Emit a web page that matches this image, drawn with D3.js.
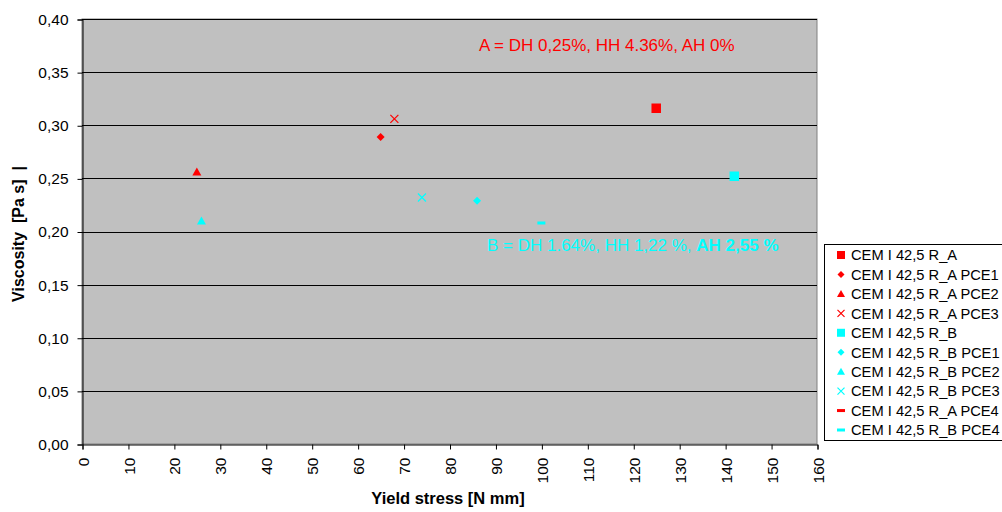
<!DOCTYPE html>
<html>
<head>
<meta charset="utf-8">
<script src="https://cdn.jsdelivr.net/npm/d3@7/dist/d3.min.js"></script>
<style>
  html, body { margin: 0; padding: 0; background: #fff; }
  svg { display: block; font-family: Arial, "Liberation Sans", sans-serif; }
</style>
</head>
<body>
<svg id="chart" width="1002" height="512"></svg>
<script>
// Series definitions
const seriesNames = [
  "CEM I 42,5 R_A", "CEM I 42,5 R_A PCE1", "CEM I 42,5 R_A PCE2", "CEM I 42,5 R_A PCE3",
  "CEM I 42,5 R_B", "CEM I 42,5 R_B PCE1", "CEM I 42,5 R_B PCE2", "CEM I 42,5 R_B PCE3",
  "CEM I 42,5 R_A PCE4", "CEM I 42,5 R_B PCE4"
];
const seriesShapes = ["square", "diamond", "triangle", "cross", "square", "diamond", "triangle", "cross", "dash", "dash"];
const seriesColors = ["#FF0000", "#FF0000", "#FF0000", "#FF0000", "#00FFFF", "#00FFFF", "#00FFFF", "#00FFFF", "#FF0000", "#00FFFF"];

// Yield stress [N mm] per series
const yieldStress = [[125], [65], [25], [68], [142], [86], [26], [74], [], [100]];
// Viscosity [Pa s] per series
const viscosity = [[0.316], [0.289], [0.256], [0.306], [0.252], [0.229], [0.210], [0.232], [], [0.208]];

// Axis ticks
const xTicks = d3.range(0, 161, 10);
const yTicks = d3.range(0, 0.4001, 0.05);

const svg = d3.select("#chart");
const plot = { left: 82, top: 19, right: 817, bottom: 444 };

const x = d3.scaleLinear().domain([0, 160]).range([plot.left, plot.right]);
const y = d3.scaleLinear().domain([0, 0.4]).range([plot.bottom, plot.top]);

// Plot area
svg.append("rect")
  .attr("x", plot.left).attr("y", plot.top)
  .attr("width", plot.right - plot.left).attr("height", plot.bottom - plot.top)
  .attr("fill", "#C0C0C0").attr("stroke", "#808080").attr("stroke-width", 1);

// Horizontal gridlines
svg.append("g").selectAll("line")
  .data(yTicks.slice(1))
  .join("line")
  .attr("x1", plot.left).attr("x2", plot.right)
  .attr("y1", d => Math.round(y(d)) + 0.5).attr("y2", d => Math.round(y(d)) + 0.5)
  .attr("stroke", "#000").attr("stroke-width", 1);

// Y axis
const yAxis = svg.append("g")
  .attr("transform", `translate(${plot.left + 0.5},0.5)`)
  .call(d3.axisLeft(y).tickValues(yTicks).tickSize(5).tickPadding(9)
    .tickFormat(d => d3.format(".2f")(d).replace(".", ",")));
yAxis.select(".domain").attr("stroke", "#000");
yAxis.selectAll(".tick line").attr("stroke", "#000");
yAxis.selectAll("text").attr("font-size", 15.5).attr("font-family", "Arial, 'Liberation Sans', sans-serif").attr("fill", "#000");

// X axis with vertical labels
const xAxis = svg.append("g")
  .attr("transform", `translate(0.5,${plot.bottom + 0.5})`)
  .call(d3.axisBottom(x).tickValues(xTicks).tickSize(5));
xAxis.select(".domain").attr("stroke", "#000");
xAxis.selectAll(".tick line").attr("stroke", "#000");
xAxis.selectAll("text")
  .attr("font-size", 15.5).attr("font-family", "Arial, 'Liberation Sans', sans-serif").attr("fill", "#000")
  .attr("transform", "rotate(-90)")
  .attr("x", -13).attr("y", 0).attr("dy", "0.36em")
  .attr("text-anchor", "end");

// Axis titles
svg.append("text")
  .attr("x", 448).attr("y", 504)
  .attr("text-anchor", "middle")
  .attr("font-size", 16.5).attr("font-weight", "bold")
  .text("Yield stress [N mm]");

svg.append("text")
  .attr("transform", "translate(24,234) rotate(-90)")
  .attr("text-anchor", "middle")
  .attr("font-size", 16).attr("font-weight", "bold")
  .attr("xml:space", "preserve")
  .style("white-space", "pre")
  .text("Viscosity  [Pa s]  |");

// Marker paths
function markerPath(shape, s) {
  const h = s / 2;
  switch (shape) {
    case "square": return `M${-h},${-h}H${h}V${h}H${-h}Z`;
    case "diamond": return `M0,${-h}L${h},0L0,${h}L${-h},0Z`;
    case "triangle": return `M0,${-h}L${h},${h * 0.8}L${-h},${h * 0.8}Z`;
    case "cross": return `M${-h},${-h}L${h},${h}M${h},${-h}L${-h},${h}`;
    case "dash": return `M${-h},-1.5H${h}V1.5H${-h}Z`;
  }
}
const plotSize = { square: 9.5, diamond: 8, triangle: 9, cross: 8, dash: 8 };
const legendSize = { square: 8, diamond: 7, triangle: 8, cross: 7, dash: 8 };

function drawMarker(sel, shape, color, size) {
  sel.attr("d", markerPath(shape, size))
    .attr("fill", shape === "cross" ? "none" : color)
    .attr("stroke", shape === "cross" ? color : "none")
    .attr("stroke-width", 1.2);
}

// Data points
const pts = svg.append("g");
seriesNames.forEach((name, i) => {
  const data = yieldStress[i].map((v, j) => ({ x: v, y: viscosity[i][j] }));
  pts.selectAll(null).data(data).join("path")
    .attr("transform", d => `translate(${x(d.x)},${y(d.y)})`)
    .call(drawMarker, seriesShapes[i], seriesColors[i], plotSize[seriesShapes[i]]);
});

// Annotations
svg.append("text")
  .attr("x", 479).attr("y", 51)
  .attr("font-size", 17).attr("fill", "#FF0000")
  .text("A = DH 0,25%, HH 4.36%, AH 0%");

const bText = svg.append("text")
  .attr("x", 487).attr("y", 251)
  .attr("font-size", 17).attr("fill", "#00FFFF")
  .attr("xml:space", "preserve");
bText.append("tspan").text("B = DH 1.64%, HH 1,22 %, ");
bText.append("tspan").attr("font-weight", "bold").text("AH 2,55 %");

// Legend
const legend = svg.append("g");
legend.append("rect")
  .attr("x", 824.5).attr("y", 244.5)
  .attr("width", 200).attr("height", 196)
  .attr("fill", "#fff").attr("stroke", "#000").attr("stroke-width", 1);

const rowY = d3.scaleLinear().domain([0, 9]).range([255, 430]);
seriesNames.forEach((name, i) => {
  const g = legend.append("g").attr("transform", `translate(0,${rowY(i)})`);
  g.append("path")
    .attr("transform", "translate(841,0)")
    .call(drawMarker, seriesShapes[i], seriesColors[i], legendSize[seriesShapes[i]]);
  g.append("text")
    .attr("x", 851).attr("y", 0).attr("dy", "0.36em")
    .attr("font-size", 14.7).attr("fill", "#000")
    .text(name);
});
</script>
</body>
</html>
